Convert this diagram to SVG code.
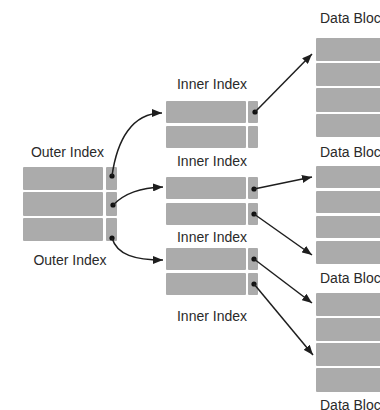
<svg xmlns="http://www.w3.org/2000/svg" width="380" height="410" viewBox="0 0 380 410">
<defs>
<style>
.c{fill:#ababab;}
.t{font-family:"Liberation Sans",Arial,sans-serif;font-size:14px;fill:#2a2a2a;}
.a{fill:none;stroke:#1e1e1e;stroke-width:1.5;marker-end:url(#ah);}
.d{fill:#111;}
</style>
<marker id="ah" viewBox="0 0 10 8" refX="10" refY="4" markerWidth="10" markerHeight="8" markerUnits="userSpaceOnUse" orient="auto">
<path d="M0,0 L10,4 L0,8 z" fill="#1e1e1e"/>
</marker>
</defs>
<rect width="380" height="410" fill="#ffffff"/>

<g id="outer-index">
<text class="t" x="67.5" y="157" text-anchor="middle">Outer Index</text>
<text class="t" x="70" y="265" text-anchor="middle">Outer Index</text>
<rect class="c" x="23" y="167" width="80" height="23" rx="1"/>
<rect class="c" x="23" y="192" width="80" height="24" rx="1"/>
<rect class="c" x="23" y="218" width="80" height="23" rx="1"/>
<rect class="c" x="106" y="167" width="11" height="23" rx="1"/>
<rect class="c" x="106" y="192" width="11" height="24" rx="1"/>
<rect class="c" x="106" y="218" width="11" height="23" rx="1"/>
<circle class="d" cx="112" cy="176" r="2.6"/>
<circle class="d" cx="113" cy="205" r="2.6"/>
<circle class="d" cx="112" cy="238" r="2.6"/>
</g>

<g id="inner-index-1">
<text class="t" x="212" y="89" text-anchor="middle">Inner Index</text>
<rect class="c" x="166" y="101" width="80" height="22" rx="1"/>
<rect class="c" x="166" y="126" width="80" height="22" rx="1"/>
<rect class="c" x="248" y="101" width="10" height="22" rx="1"/>
<rect class="c" x="248" y="126" width="10" height="22" rx="1"/>
<circle class="d" cx="255" cy="112" r="2.6"/>
</g>

<g id="inner-index-2">
<text class="t" x="212" y="166" text-anchor="middle">Inner Index</text>
<rect class="c" x="166" y="177" width="80" height="22" rx="1"/>
<rect class="c" x="166" y="203" width="80" height="22" rx="1"/>
<rect class="c" x="248" y="177" width="10" height="22" rx="1"/>
<rect class="c" x="248" y="203" width="10" height="22" rx="1"/>
<circle class="d" cx="254" cy="189" r="2.6"/>
<circle class="d" cx="254" cy="214" r="2.6"/>
</g>

<g id="inner-index-3">
<text class="t" x="212" y="242" text-anchor="middle">Inner Index</text>
<text class="t" x="212" y="321" text-anchor="middle">Inner Index</text>
<rect class="c" x="166" y="248" width="80" height="22" rx="1"/>
<rect class="c" x="166" y="273" width="80" height="22" rx="1"/>
<rect class="c" x="248" y="248" width="10" height="22" rx="1"/>
<rect class="c" x="248" y="273" width="10" height="22" rx="1"/>
<circle class="d" cx="254" cy="259" r="2.6"/>
<circle class="d" cx="254" cy="284" r="2.6"/>
</g>

<g id="data-block-1">
<text class="t" x="320" y="23">Data Bloc</text>
<rect class="c" x="316" y="38" width="70" height="23" rx="1"/>
<rect class="c" x="316" y="63" width="70" height="23" rx="1"/>
<rect class="c" x="316" y="88" width="70" height="24" rx="1"/>
<rect class="c" x="316" y="114" width="70" height="23" rx="1"/>
</g>

<g id="data-block-2">
<text class="t" x="320" y="157">Data Bloc</text>
<rect class="c" x="316" y="166" width="70" height="22" rx="1"/>
<rect class="c" x="316" y="191" width="70" height="22" rx="1"/>
<rect class="c" x="316" y="216" width="70" height="22" rx="1"/>
<rect class="c" x="316" y="241" width="70" height="23" rx="1"/>
</g>

<g id="data-block-3">
<text class="t" x="320" y="283">Data Bloc</text>
<rect class="c" x="316" y="293" width="70" height="23" rx="1"/>
<rect class="c" x="316" y="318" width="70" height="23" rx="1"/>
<rect class="c" x="316" y="343" width="70" height="23" rx="1"/>
<rect class="c" x="316" y="368" width="70" height="24" rx="1"/>
<text class="t" x="320" y="410">Data Bloc</text>
</g>

<g id="connectors">
<path class="a" d="M112,176 C117,140 132,113 162,113"/>
<path class="a" d="M113,205 C125,193 140,188 163,187"/>
<path class="a" d="M112,238 C117,255 135,260 163,260"/>
<path class="a" d="M255,112 L312,54"/>
<path class="a" d="M254,189 L312,177"/>
<path class="a" d="M254,214 L312,255"/>
<path class="a" d="M254,259 L312,303"/>
<path class="a" d="M254,284 L313,355"/>
</g>
</svg>
